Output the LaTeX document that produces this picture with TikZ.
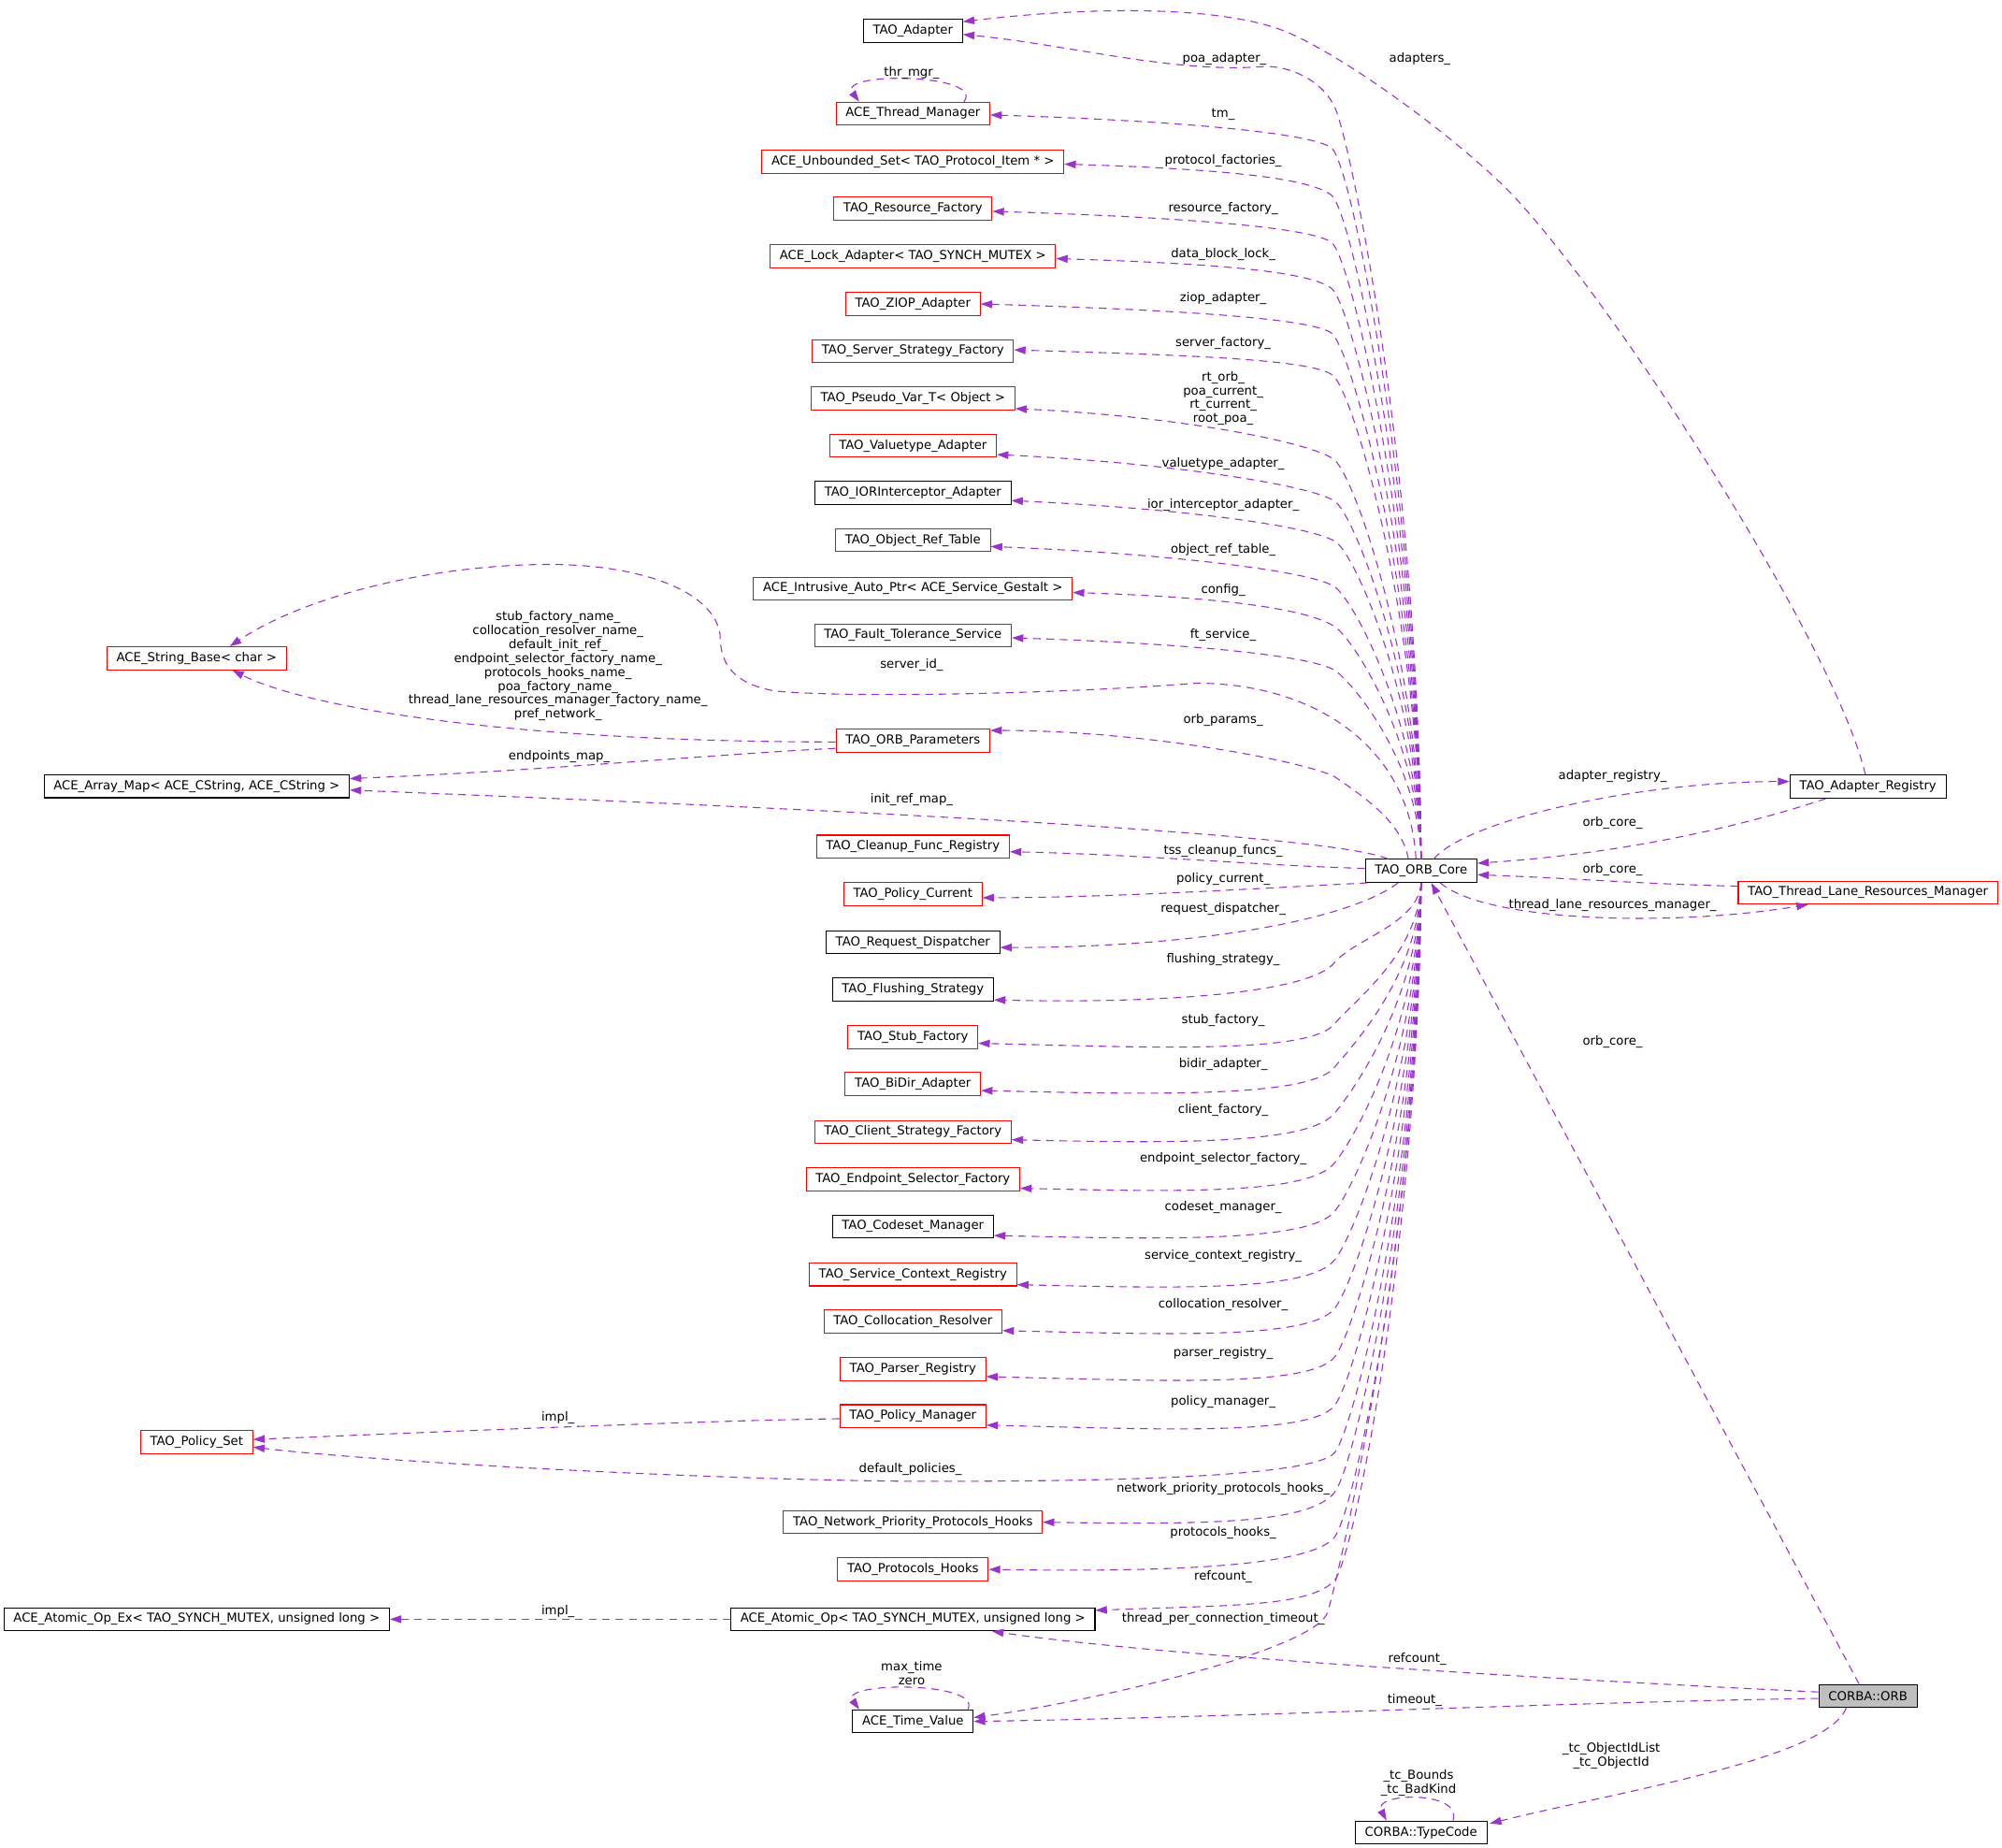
\documentclass[tikz,border=0pt]{standalone}
\usepackage{fontspec}
\setmainfont{DejaVu Sans}
\usetikzlibrary{arrows.meta,calc}

\definecolor{edgepurple}{HTML}{9A32CD}
\definecolor{orbgray}{HTML}{BFBFBF}

\begin{document}
\begin{tikzpicture}[x=1pt,y=-1pt,
  cls/.style={draw=black,line width=0.75pt,minimum height=18pt,inner xsep=7.5pt,inner ysep=0pt,font=\fontsize{9.7}{10.9}\selectfont},
  undoc/.style={cls,draw=red},
  lbl/.style={align=center,inner sep=0pt,font=\fontsize{9.7}{10.9}\selectfont},
  rel/.style={draw=edgepurple,line width=0.8pt,dash pattern=on 6pt off 4.5pt,-{Triangle[length=9pt,width=6pt,fill=edgepurple]}}]
\useasboundingbox (0,0) rectangle (1568,1447);

\node[cls] at (1113,682) (core) {TAO\_ORB\_Core};

\node[cls] at (715,24) (ta) {TAO\_Adapter};
\node[undoc] at (715,89) (atm) {ACE\_Thread\_Manager};
\node[undoc] at (715,126.5) (aus) {ACE\_Unbounded\_Set< TAO\_Protocol\_Item * >};
\node[undoc] at (715,163.5) (trf) {TAO\_Resource\_Factory};
\node[undoc] at (715,200.5) (ala) {ACE\_Lock\_Adapter< TAO\_SYNCH\_MUTEX >};
\node[undoc] at (715,238) (tza) {TAO\_ZIOP\_Adapter};
\node[undoc] at (715,275) (tssf) {TAO\_Server\_Strategy\_Factory};
\node[undoc] at (715,312) (tpv) {TAO\_Pseudo\_Var\_T< Object >};
\node[undoc] at (715,349) (tva) {TAO\_Valuetype\_Adapter};
\node[cls] at (715,386) (tia) {TAO\_IORInterceptor\_Adapter};
\node[undoc] at (715,423) (tort) {TAO\_Object\_Ref\_Table};
\node[undoc] at (715,461) (aiap) {ACE\_Intrusive\_Auto\_Ptr< ACE\_Service\_Gestalt >};
\node[undoc] at (715,497.5) (tfts) {TAO\_Fault\_Tolerance\_Service};
\node[undoc] at (715,580) (tparams) {TAO\_ORB\_Parameters};
\node[undoc] at (715,663) (tcfr) {TAO\_Cleanup\_Func\_Registry};
\node[undoc] at (715,700) (tpc) {TAO\_Policy\_Current};
\node[cls] at (715,738) (trd) {TAO\_Request\_Dispatcher};
\node[cls] at (715,775) (tfs) {TAO\_Flushing\_Strategy};
\node[undoc] at (715,812) (tsf) {TAO\_Stub\_Factory};
\node[undoc] at (715,849) (tba) {TAO\_BiDir\_Adapter};
\node[undoc] at (715,886.5) (tcsf) {TAO\_Client\_Strategy\_Factory};
\node[undoc] at (715,923.5) (tesf) {TAO\_Endpoint\_Selector\_Factory};
\node[cls] at (715,960.5) (tcm) {TAO\_Codeset\_Manager};
\node[undoc] at (715,998) (tscr) {TAO\_Service\_Context\_Registry};
\node[undoc] at (715,1035) (tcr) {TAO\_Collocation\_Resolver};
\node[undoc] at (715,1072) (tpr) {TAO\_Parser\_Registry};
\node[undoc] at (715,1109) (tpm) {TAO\_Policy\_Manager};
\node[undoc] at (715,1192) (tnph) {TAO\_Network\_Priority\_Protocols\_Hooks};
\node[undoc] at (715,1229) (tph) {TAO\_Protocols\_Hooks};
\node[cls] at (715,1268) (aao) {ACE\_Atomic\_Op< TAO\_SYNCH\_MUTEX, unsigned long >};
\node[cls] at (715,1348) (atv) {ACE\_Time\_Value};

\node[undoc] at (154,515.5) (asb) {ACE\_String\_Base< char >};
\node[cls] at (154,615.7) (aam) {ACE\_Array\_Map< ACE\_CString, ACE\_CString >};
\node[undoc] at (154,1129.2) (tps) {TAO\_Policy\_Set};
\node[cls] at (154,1268) (aaox) {ACE\_Atomic\_Op\_Ex< TAO\_SYNCH\_MUTEX, unsigned long >};

\node[cls] at (1463,616) (tar) {TAO\_Adapter\_Registry};
\node[undoc] at (1463,699) (ttlr) {TAO\_Thread\_Lane\_Resources\_Manager};
\node[cls,fill=orbgray] at (1463,1328) (orb) {CORBA::ORB};
\node[cls] at (1113,1435) (tc) {CORBA::TypeCode};

\draw[rel] (core.north) .. controls +(-2,-300) and +(14,40) .. (1047,88) .. controls +(-8,-23) and +(22,0) .. (991,52) .. controls +(-70,6) and +(83,8) .. ($(ta.east)+(0,3)$);
\draw[rel] (core.north) .. controls +(-2,-278) and +(16,13) .. (1043,116) .. controls +(-16,-13) and +(130,4) .. ($(atm.east)+(0,1)$);
\draw[rel] (core.north) .. controls +(-2,-260) and +(16,13) .. (1043,153) .. controls +(-16,-13) and +(130,4) .. ($(aus.east)+(0,2)$);
\draw[rel] (core.north) .. controls +(-2,-242) and +(16,13) .. (1043,190) .. controls +(-16,-13) and +(130,4) .. ($(trf.east)+(0,2)$);
\draw[rel] (core.north) .. controls +(-2,-224) and +(16,13) .. (1043,226) .. controls +(-16,-13) and +(130,4) .. ($(ala.east)+(0,2)$);
\draw[rel] (core.north) .. controls +(-2,-206) and +(16,13) .. (1043,261) .. controls +(-16,-13) and +(130,4) .. (tza.east);
\draw[rel] (core.north) .. controls +(-2,-190) and +(16,13) .. (1044,294) .. controls +(-16,-13) and +(130,4) .. ($(tssf.east)+(0,-1)$);
\draw[rel] (core.north) .. controls +(-2,-156) and +(16,13) .. (1045,360) .. controls +(-16,-13) and +(130,6) .. ($(tpv.east)+(0,8)$);
\draw[rel] (core.north) .. controls +(-2,-140) and +(16,13) .. (1046,393) .. controls +(-16,-13) and +(130,6) .. ($(tva.east)+(0,7)$);
\draw[rel] (core.north) .. controls +(-2,-124) and +(16,13) .. (1047,425) .. controls +(-16,-13) and +(130,6) .. ($(tia.east)+(0,6)$);
\draw[rel] (core.north) .. controls +(-2,-106) and +(16,13) .. (1046,460) .. controls +(-16,-13) and +(130,5) .. ($(tort.east)+(0,5)$);
\draw[rel] (core.north) .. controls +(-2,-90) and +(16,13) .. (1047,492) .. controls +(-16,-13) and +(130,4) .. ($(aiap.east)+(0,3)$);
\draw[rel] (core.north) .. controls +(-2,-74) and +(16,13) .. (1047,526) .. controls +(-16,-13) and +(130,4) .. ($(tfts.east)+(0,2)$);
\draw[rel] ([xshift=-4]core.north) .. controls +(-5,-90) and +(90,0) .. (937,535) .. controls +(-100,8) and +(60,6) .. (606,541) .. controls +(-30,-6) and +(0,25) .. (564,497) .. controls +(-5,-35) and +(70,0) .. (430,442) .. controls +(-90,0) and +(60,-40) .. ($(asb.north)+(26,0)$);
\draw[rel] ([xshift=-10]core.north) .. controls +(-5,-30) and +(20,14) .. (1045,608) .. controls +(-25,-12) and +(120,0) .. ($(tparams.east)+(0,-8)$);
\draw[rel] ([xshift=-26]core.north) .. controls +(-50,-22) and +(300,12) .. ($(aam.east)+(0,3)$);
\draw[rel] ($(core.west)+(0,-2)$) .. controls +(-80,-2) and +(100,2) .. ($(tcfr.east)+(0,4)$);
\draw[rel] ([xshift=2]core.south west) .. controls +(-80,4) and +(100,0) .. ($(tpc.east)+(0,3)$);
\draw[rel] ([xshift=-18]core.south) .. controls +(-40,30) and +(150,0) .. ($(trd.east)+(0,4)$);

\draw[rel] (core.south) .. controls +(-2,32) and +(16,-19) .. (1045,754) .. controls +(-20,24) and +(130,3) .. ($(tfs.east)+(0,8)$);
\draw[rel] (core.south) .. controls +(-2,56) and +(16,-19) .. (1045,802) .. controls +(-20,24) and +(130,3) .. ($(tsf.east)+(0,5)$);
\draw[rel] (core.south) .. controls +(-2,72) and +(16,-19) .. (1045,836) .. controls +(-20,24) and +(130,3) .. ($(tba.east)+(0,5)$);
\draw[rel] (core.south) .. controls +(-2,90) and +(16,-19) .. (1045,872) .. controls +(-20,24) and +(130,3) .. ($(tcsf.east)+(0,6)$);
\draw[rel] (core.south) .. controls +(-2,110) and +(16,-19) .. (1045,911) .. controls +(-20,24) and +(130,3) .. ($(tesf.east)+(0,7)$);
\draw[rel] (core.south) .. controls +(-2,129) and +(16,-19) .. (1045,949) .. controls +(-20,24) and +(130,3) .. ($(tcm.east)+(0,7)$);
\draw[rel] (core.south) .. controls +(-2,148) and +(16,-19) .. (1045,987) .. controls +(-20,24) and +(130,3) .. ($(tscr.east)+(0,8)$);
\draw[rel] (core.south) .. controls +(-2,167) and +(16,-19) .. (1045,1025) .. controls +(-20,24) and +(130,3) .. ($(tcr.east)+(0,7)$);
\draw[rel] (core.south) .. controls +(-2,186) and +(16,-19) .. (1045,1063) .. controls +(-20,24) and +(130,3) .. ($(tpr.east)+(0,6)$);
\draw[rel] (core.south) .. controls +(-2,205) and +(16,-19) .. (1045,1101) .. controls +(-20,24) and +(130,3) .. ($(tpm.east)+(0,7)$);
\draw[rel] (core.south) .. controls +(-2,224) and +(16,-19) .. (1045,1138) .. controls +(-20,20) and +(120,0) .. (729,1160) .. controls +(-150,0) and +(100,12) .. ($(tps.east)+(0,4)$);
\draw[rel] (core.south) .. controls +(-2,239) and +(16,-19) .. (1045,1169) .. controls +(-20,24) and +(130,2) .. (tnph.east);
\draw[rel] (core.south) .. controls +(-2,256) and +(16,-19) .. (1045,1204) .. controls +(-20,24) and +(130,2) .. (tph.east);
\draw[rel] (core.south) .. controls +(-2,274) and +(16,-19) .. (1045,1238) .. controls +(-20,20) and +(110,-4) .. ($(aao.east)+(0,-7)$);
\draw[rel] (core.south) .. controls +(-2,286) and +(6,-20) .. (1040,1262) .. controls +(-8,30) and +(90,-12) .. ($(atv.east)+(0,-3)$);

\draw[rel] ($(tparams.west)+(0,1)$) .. controls +(-250,0) and +(60,30) .. ($(asb.south)+(28,0)$);
\draw[rel] ($(tparams.west)+(0,6)$) .. controls +(-100,5) and +(150,-6) .. ($(aam.east)+(0,-6)$);
\draw[rel] ($(tpm.west)+(0,2)$) .. controls +(-100,1) and +(100,-4) .. ($(tps.east)+(0,-2)$);
\draw[rel] (aao.west) -- (aaox.east);

\draw[rel] ([xshift=10]core.north) .. controls +(25,-30) and +(-120,0) .. ($(tar.west)+(0,-4)$);
\draw[rel] ([xshift=-33]tar.south) .. controls +(-60,20) and +(120,-8) .. ($(core.east)+(0,-6)$);
\draw[rel] ($(ttlr.west)+(0,-5)$) .. controls +(-80,-2) and +(80,3) .. ($(core.east)+(0,3)$);
\draw[rel] ([xshift=15]core.south) .. controls +(35,30) and +(-110,18) .. ([xshift=-47]ttlr.south);
\draw[rel] ([xshift=-2]tar.north) .. controls +(-25,-106) and +(74,71) .. (1176,144) .. controls +(-45,-43) and +(45,20) .. (1010,26) .. controls +(-50,-22) and +(100,-12) .. ($(ta.east)+(0,-7)$);

\draw[rel] ([xshift=-7]orb.north) -- ([xshift=8]core.south);
\draw[rel] ($(orb.west)+(0,-3)$) .. controls +(-250,-12) and +(120,18) .. ([xshift=62]aao.south);
\draw[rel] ($(orb.west)+(0,2)$) .. controls +(-200,3) and +(200,-3) .. ($(atv.east)+(0,0)$);
\draw[rel] ([xshift=-17]orb.south) .. controls +(-15,40) and +(100,-25) .. ($(tc.east)+(2,-7)$);

\draw[rel] ([xshift=40]atm.north) .. controls +(17,-22) and +(-18,-24) .. ([xshift=-42]atm.north);
\draw[rel] ([xshift=43]atv.north) .. controls +(12,-22) and +(-16,-22) .. ([xshift=-42]atv.north);
\draw[rel] ([xshift=25]tc.north) .. controls +(8,-24) and +(-12,-22) .. ([xshift=-27]tc.north);

\node[lbl] at (959,46) (lpoa) {poa\_adapter\_};
\node[lbl] at (958,89.4) (ltm) {tm\_};
\node[lbl] at (958,126) (lpf) {protocol\_factories\_};
\node[lbl] at (958,163.3) (lrf) {resource\_factory\_};
\node[lbl] at (958,199) (ldbl) {data\_block\_lock\_};
\node[lbl] at (958,234) (lziop) {ziop\_adapter\_};
\node[lbl] at (958,268.6) (lsf) {server\_factory\_};
\node[lbl] at (958,312) (lrt) {rt\_orb\_\\poa\_current\_\\rt\_current\_\\root\_poa\_};
\node[lbl] at (958,363) (lva) {valuetype\_adapter\_};
\node[lbl] at (958,395.4) (lior) {ior\_interceptor\_adapter\_};
\node[lbl] at (958,430.6) (lort) {object\_ref\_table\_};
\node[lbl] at (958,462) (lcfg) {config\_};
\node[lbl] at (958,497.2) (lft) {ft\_service\_};
\node[lbl] at (714,521) (lsid) {server\_id\_};
\node[lbl] at (958,563.8) (lop) {orb\_params\_};
\node[lbl] at (714,626.5) (lirm) {init\_ref\_map\_};
\node[lbl] at (958,666.5) (ltss) {tss\_cleanup\_funcs\_};
\node[lbl] at (958,688.3) (lpc) {policy\_current\_};
\node[lbl] at (958,711.7) (lrd) {request\_dispatcher\_};
\node[lbl] at (958,751.4) (lfs) {flushing\_strategy\_};
\node[lbl] at (958,799.1) (lsfy) {stub\_factory\_};
\node[lbl] at (958,833.2) (lbd) {bidir\_adapter\_};
\node[lbl] at (958,869.4) (lcf) {client\_factory\_};
\node[lbl] at (958,907.5) (lesf) {endpoint\_selector\_factory\_};
\node[lbl] at (958,945.6) (lcm) {codeset\_manager\_};
\node[lbl] at (958,983.8) (lscr) {service\_context\_registry\_};
\node[lbl] at (958,1021.9) (lcr) {collocation\_resolver\_};
\node[lbl] at (958,1060) (lpr) {parser\_registry\_};
\node[lbl] at (958,1098.1) (lpm) {policy\_manager\_};
\node[lbl] at (713,1150.5) (ldp) {default\_policies\_};
\node[lbl] at (958,1166) (lnph) {network\_priority\_protocols\_hooks\_};
\node[lbl] at (958,1200.6) (lph) {protocols\_hooks\_};
\node[lbl] at (958,1234.8) (lrc) {refcount\_};
\node[lbl] at (958,1267.7) (ltpc) {thread\_per\_connection\_timeout\_};

\node[lbl] at (437,521.6) (lnames) {stub\_factory\_name\_\\collocation\_resolver\_name\_\\default\_init\_ref\_\\endpoint\_selector\_factory\_name\_\\protocols\_hooks\_name\_\\poa\_factory\_name\_\\thread\_lane\_resources\_manager\_factory\_name\_\\pref\_network\_};
\node[lbl] at (438,592.5) (lem) {endpoints\_map\_};
\node[lbl] at (437,1110.5) (limpl) {impl\_};
\node[lbl] at (437,1262) (limplx) {impl\_};

\node[lbl] at (714,57.2) (lthr) {thr\_mgr\_};
\node[lbl] at (714,1310) (lmax) {max\_time\\zero};
\node[lbl] at (1111,1396) (ltcb) {\_tc\_Bounds\\\_tc\_BadKind};
\node[lbl] at (1262,1375) (ltco) {\_tc\_ObjectIdList\\\_tc\_ObjectId};

\node[lbl] at (1112,46) (ladp) {adapters\_};
\node[lbl] at (1263,608) (lar) {adapter\_registry\_};
\node[lbl] at (1263,644.6) (loc1) {orb\_core\_};
\node[lbl] at (1263,681.2) (loc2) {orb\_core\_};
\node[lbl] at (1263,708.7) (ltlr) {thread\_lane\_resources\_manager\_};
\node[lbl] at (1263,816) (loc3) {orb\_core\_};
\node[lbl] at (1110,1299) (lrc2) {refcount\_};
\node[lbl] at (1108,1331.6) (lto) {timeout\_};
\end{tikzpicture}
\end{document}
